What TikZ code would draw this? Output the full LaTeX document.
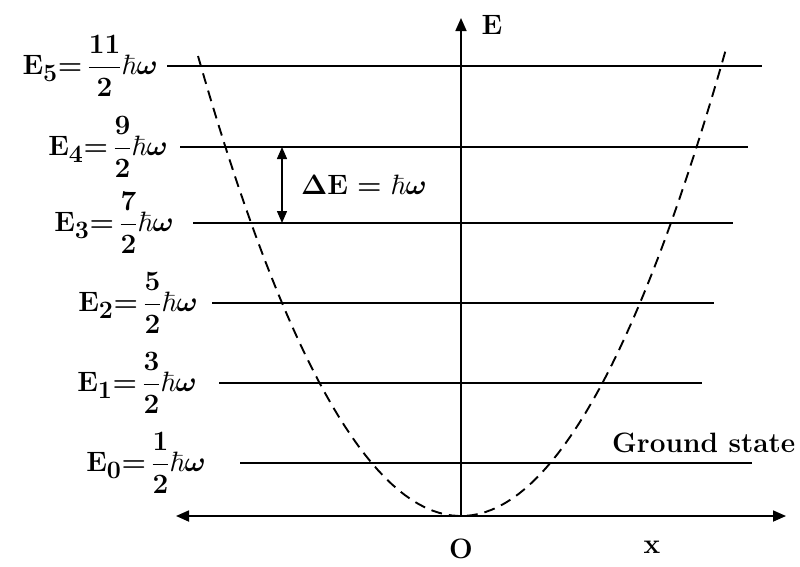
\RequirePackage{fix-cm}
\documentclass[tikz,border=0pt]{standalone}
\usepackage{amsmath}
\usepackage{amssymb}
\usetikzlibrary{arrows.meta}
\DeclareMathSizes{28}{28}{25}{18}

\begin{document}
\begin{tikzpicture}[x=1pt,y=-1pt,
    font=\fontsize{28}{34}\selectfont\bfseries\boldmath,
    axis/.style={line width=1.7pt},
    level/.style={line width=1.6pt}]
\useasboundingbox (0,0) rectangle (800,566);
% axes
\coordinate (xl) at (176,516);
\coordinate (xr) at (786,516);
\coordinate (O) at (461,516);
\coordinate (Etop) at (461,18);
\draw[axis,{Triangle[length=13pt,width=11pt]}-{Triangle[length=13pt,width=11pt]}] (xl) -- (xr);
\draw[axis,-{Triangle[length=13pt,width=11pt]}] (O) -- (Etop);
\node (Elab) at (492,25) {E};
\node (Olab) at (461,549) {O};
\node (xlab) at (652,547) {x};
% energy levels
\coordinate (l5a) at (167,66);  \coordinate (l5b) at (762,66);
\coordinate (l4a) at (180,147); \coordinate (l4b) at (748,147);
\coordinate (l3a) at (193,223); \coordinate (l3b) at (733,223);
\coordinate (l2a) at (212,303); \coordinate (l2b) at (714,303);
\coordinate (l1a) at (219,383); \coordinate (l1b) at (702,383);
\coordinate (l0a) at (240,463); \coordinate (l0b) at (752,463);
\draw[level] (l5a) -- (l5b);
\draw[level] (l4a) -- (l4b);
\draw[level] (l3a) -- (l3b);
\draw[level] (l2a) -- (l2b);
\draw[level] (l1a) -- (l1b);
\draw[level] (l0a) -- (l0b);
\node[anchor=east,inner sep=9pt] (E5) at (l5a) {$\mathbf{E_5}{=}\,\dfrac{11}{2}\hbar\omega$};
\node[anchor=east,inner sep=12pt] (E4) at (l4a) {$\mathbf{E_4}{=}\,\dfrac{9}{2}\hbar\omega$};
\node[anchor=east,inner sep=19pt] (E3) at (l3a) {$\mathbf{E_3}{=}\,\dfrac{7}{2}\hbar\omega$};
\node[anchor=east,inner sep=14pt] (E2) at (l2a) {$\mathbf{E_2}{=}\,\dfrac{5}{2}\hbar\omega$};
\node[anchor=east,inner sep=22pt] (E1) at (l1a) {$\mathbf{E_1}{=}\,\dfrac{3}{2}\hbar\omega$};
\node[anchor=east,inner sep=34pt] (E0) at (l0a) {$\mathbf{E_0}{=}\,\dfrac{1}{2}\hbar\omega$};
\node[anchor=west,inner sep=0pt] (gs) at (612,443) {Ground state};
% spacing between E3 and E4
\coordinate (d4) at (282,147);
\coordinate (d3) at (282,223);
\draw[line width=1.4pt,{Triangle[length=12pt,width=10pt]}-{Triangle[length=12pt,width=10pt]}] (d4) -- (d3);
\node (dE) at (364,185) {$\Delta\mathbf{E} = \hbar\omega$};
% potential
\draw[line width=1.9pt,dash pattern=on 11pt off 7pt]
    plot[domain=-263:265,samples=80] ({461+\x},{516-(\x/10)*(\x/10)*0.665});
\end{tikzpicture}
\end{document}
